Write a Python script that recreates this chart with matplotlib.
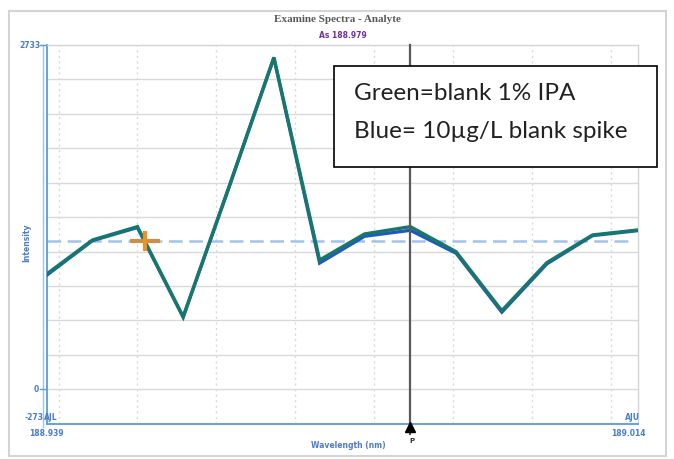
import matplotlib
matplotlib.use("Agg")
import matplotlib.pyplot as plt
from matplotlib.patches import Rectangle
from matplotlib.lines import Line2D

# Sample wavelengths (nm) and intensities for the two spectra
wavelengths = [188.9385, 188.9443, 188.9500, 188.9558, 188.9616, 188.9673, 188.9731,
               188.9788, 188.9846, 188.9904, 188.9962, 189.0019, 189.0077, 189.0135]
blank_ipa = [915, 1185, 1291, 576, 1606, 2635, 1026, 1233, 1291, 1092, 624, 1005, 1225, 1265]
blank_spike = [905, 1180, 1284, 572, 1600, 2630, 1002, 1215, 1262, 1080, 612, 995, 1220, 1260]

y_min, y_max = -273.3, 2733.0
grid_step = 273.3
grid_wavelengths = [188.94, 188.95, 188.96, 188.97, 188.98, 188.99, 189.00, 189.01]
baseline = 1177
cursor_index = 8
marker_pos = (188.95096, 1177)

title = "Examine Spectra - Analyte"
subtitle = "As 188.979"
legend_lines = ["Green=blank 1% IPA", "Blue= 10\u00b5g/L blank spike"]

W, H = 674, 459
fig = plt.figure(figsize=(W / 100, H / 100), dpi=100)
fig.patch.set_facecolor("white")


def fx(px):
    return px / W


def fy(py):
    return 1 - py / H


# outer panel frame
fig.add_artist(Rectangle((fx(9), fy(456)), fx(657), 445 / H, transform=fig.transFigure,
                         facecolor="white", edgecolor="#d4d4d4", lw=1.5, zorder=0))

left, right, top, bottom = 46.7, 638.3, 45.0, 423.7
ax = fig.add_axes([fx(left), fy(bottom), fx(right - left), (bottom - top) / H])
ax.set_xlim(wavelengths[0], wavelengths[-1])
ax.set_ylim(y_min, y_max)
ax.set_facecolor("none")

for k in range(0, 10):
    ax.axhline(k * grid_step, color="#d9d9d9", lw=1.0, zorder=1)
for g in grid_wavelengths:
    ax.axvline(g, color="#d9d9d9", lw=1.0, ls=(0, (1.5, 2.5)), zorder=1)

ax.axhline(baseline, xmax=0.985, color="#a3c2e6", lw=1.8, ls=(0, (5.5, 2.6)), zorder=2)

ax.plot(wavelengths, blank_spike, color="#2058c0", lw=2.4, zorder=3,
        solid_joinstyle="miter")
ax.plot(wavelengths, blank_ipa, color="#17786a", lw=2.4, zorder=4,
        solid_joinstyle="miter")

ax.plot([marker_pos[0]], [marker_pos[1]], marker="_", ms=22, mew=3.0,
        color="#c8904c", zorder=5)
ax.plot([marker_pos[0]], [marker_pos[1]], marker="|", ms=14, mew=3.0,
        color="#ef9022", zorder=6)

cx = wavelengths[cursor_index]
ax.plot([cx, cx], [y_min - 80, y_max], color="#5a5a5a", lw=1.6, zorder=6,
        clip_on=False)
ax.plot([cx], [y_min - 30], marker="^", ms=7, color="black", zorder=7, clip_on=False)

ax.set_xticks([])
ax.set_yticks([])
for s in ("top", "right"):
    ax.spines[s].set_color("#d4d4d4")
    ax.spines[s].set_linewidth(1.0)
ax.spines["bottom"].set_color("#5b9bd5")
ax.spines["bottom"].set_linewidth(1.3)
ax.spines["left"].set_color("#5b9bd5")
ax.spines["left"].set_linewidth(1.3)

# double rule along the intensity axis
fig.add_artist(Line2D([fx(42.5), fx(42.5)], [fy(45), fy(427)], transform=fig.transFigure,
                      color="#9dc3e6", lw=1.0))
fig.add_artist(Line2D([fx(40), fx(46)], [fy(45), fy(45)], transform=fig.transFigure,
                      color="#5b9bd5", lw=1.0))
fig.add_artist(Line2D([fx(40), fx(46)], [fy(389.3), fy(389.3)], transform=fig.transFigure,
                      color="#5b9bd5", lw=1.0))

blue = "#4a7cc9"
fig.text(fx(337), fy(19), title, ha="center", va="center", fontsize=8,
         family="Liberation Serif", color="#595959", fontweight="bold")
fig.text(fx(343), fy(35), subtitle, ha="center", va="center", fontsize=5.5,
         color="#7030a0", fontweight="bold")
fig.text(fx(41), fy(45), "2733", ha="right", va="center", fontsize=5.5, color=blue,
         fontweight="bold")
fig.text(fx(39), fy(389.3), "0", ha="right", va="center", fontsize=5.5, color=blue,
         fontweight="bold")
fig.text(fx(44), fy(417), "-273", ha="right", va="center", fontsize=5.5, color=blue,
         fontweight="bold")
fig.text(fx(44), fy(417), "AJL", ha="left", va="center", fontsize=5.5, color=blue,
         fontweight="bold")
fig.text(fx(640), fy(417), "AJU", ha="right", va="center", fontsize=5.5, color=blue,
         fontweight="bold")
fig.text(fx(46), fy(434), "188.939", ha="center", va="center", fontsize=5.5, color=blue,
         fontweight="bold")
fig.text(fx(628), fy(434), "189.014", ha="center", va="center", fontsize=5.5, color=blue,
         fontweight="bold")
fig.text(fx(348), fy(446), "Wavelength (nm)", ha="center", va="center", fontsize=5.5,
         color=blue, fontweight="bold")
fig.text(fx(27), fy(243), "Intensity", ha="center", va="center", rotation=90,
         fontsize=5.5, color=blue, fontweight="bold")
fig.text(fx(412), fy(441), "P", ha="center", va="center", fontsize=5, color="#333333",
         fontweight="bold")

# annotation box
fig.add_artist(Rectangle((fx(334), fy(166.7)), fx(656.7 - 334), (166.7 - 65.7) / H,
                         transform=fig.transFigure, facecolor="white",
                         edgecolor="black", lw=1.2, zorder=10))
fig.text(fx(354), fy(94), legend_lines[0], ha="left", va="center", fontsize=17.5,
         family="Lato", color="#222222", zorder=11)
fig.text(fx(354), fy(131), legend_lines[1], ha="left", va="center", fontsize=17.5,
         family="Lato", color="#222222", zorder=11)

fig.savefig("out.png", dpi=100, facecolor="white")
